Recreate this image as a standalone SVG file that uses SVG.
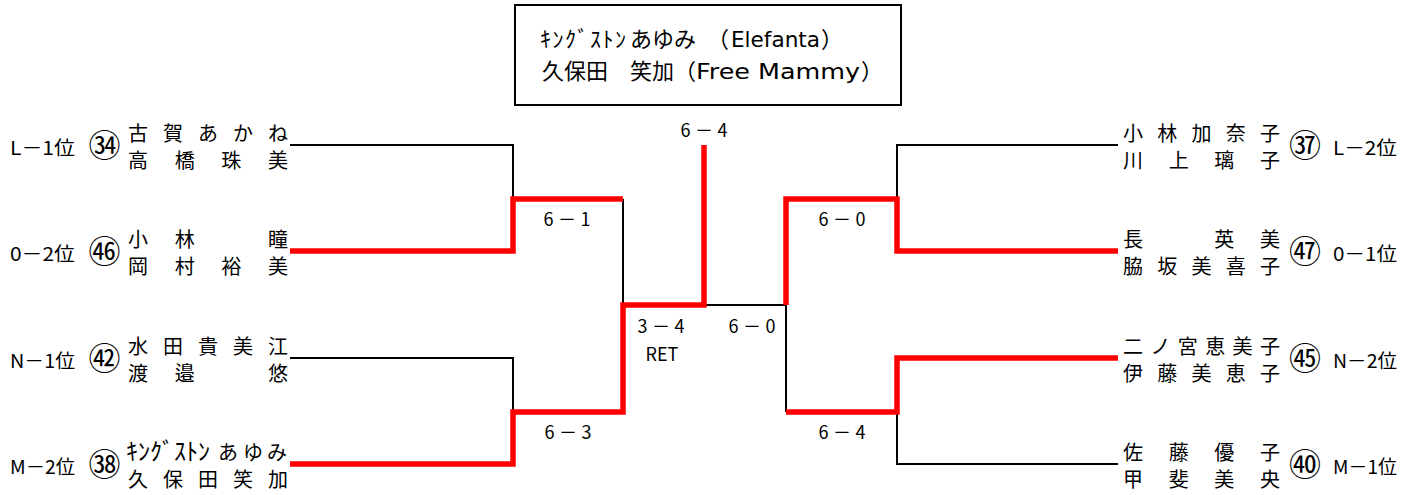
<svg xmlns="http://www.w3.org/2000/svg" width="1416" height="495" viewBox="0 0 1416 495">
<style>
text{font-family:"Noto Sans CJK JP","Noto Sans",sans-serif;fill:#000}
.nm{font-size:20px}
.hk{font-size:24px}
.lb{font-size:19px}
.cn{font-size:32px;text-anchor:middle}
.sc{font-size:18px;text-anchor:middle}
.lat{font-family:"DejaVu Sans","Liberation Sans",sans-serif;font-size:21px}
.bk{fill:none;stroke:#000;stroke-width:2}
.rd{fill:none;stroke:#FF0000;stroke-width:5.5;stroke-linejoin:miter}
</style>
<rect x="0" y="0" width="1416" height="495" fill="#fff"/>

<g id="champion-box">
<rect x="515" y="5" width="386" height="100" fill="#fff" stroke="#000" stroke-width="2"/>
<text style="font-size:22px" y="47"><tspan x="540 552.5 565 577.5 590 602.5 615">ｷﾝｸﾞｽﾄﾝ</tspan><tspan x="630 652 674">あゆみ</tspan><tspan x="707">（</tspan><tspan class="lat" x="731" textLength="89" lengthAdjust="spacingAndGlyphs">Elefanta</tspan><tspan x="821">）</tspan></text>
<text style="font-size:22px" y="79"><tspan x="542 564 586 608 630 652 674">久保田　笑加（</tspan><tspan class="lat" x="696" textLength="164" lengthAdjust="spacingAndGlyphs">Free Mammy</tspan><tspan x="861">）</tspan></text>
</g>

<g id="connectors">
<path class="bk" d="M290,145 H513 V199"/>
<path class="bk" d="M623,199 V305"/>
<path class="bk" d="M290,358 H513 V412"/>
<path class="bk" d="M704,305 H786 V412"/>
<path class="bk" d="M1118,145 H897 V199"/>
<path class="bk" d="M1118,464 H897 V412"/>
<path class="rd" d="M290,251 H513 V199 H623"/>
<path class="rd" d="M290,464 H513 V412 H623 V305 H704 V145"/>
<path class="rd" d="M1118,251 H897 V199 H786 V305"/>
<path class="rd" d="M1118,358 H897 V412 H786"/>
</g>

<g id="scores">
<text class="sc" x="704" y="137" textLength="47" lengthAdjust="spacing">6－4</text>
<text class="sc" x="567" y="226" textLength="47" lengthAdjust="spacing">6－1</text>
<text class="sc" x="842" y="226" textLength="47" lengthAdjust="spacing">6－0</text>
<text class="sc" x="661" y="333" textLength="47" lengthAdjust="spacing">3－4</text>
<text class="sc" x="662" y="361">RET</text>
<text class="sc" x="752" y="333" textLength="47" lengthAdjust="spacing">6－0</text>
<text class="sc" x="568" y="439" textLength="47" lengthAdjust="spacing">6－3</text>
<text class="sc" x="842" y="439" textLength="47" lengthAdjust="spacing">6－4</text>
</g>

<g id="p34">
<text class="lb" x="10" y="155" textLength="65" lengthAdjust="spacingAndGlyphs">L－1位</text>
<text class="cn" x="104.5" y="157">㉞</text>
<text class="nm" x="128 163 198 233 268" y="141">古賀あかね</text>
<text class="nm" x="128 174.7 221.3 268" y="168">高橋珠美</text>
</g>
<g id="p46">
<text class="lb" x="10" y="261" textLength="65" lengthAdjust="spacingAndGlyphs">0－2位</text>
<text class="cn" x="104.5" y="263">㊻</text>
<text class="nm" x="128 174.7 221.3 268" y="247">小林　瞳</text>
<text class="nm" x="128 174.7 221.3 268" y="274">岡村裕美</text>
</g>
<g id="p42">
<text class="lb" x="10" y="368" textLength="65" lengthAdjust="spacingAndGlyphs">N－1位</text>
<text class="cn" x="104.5" y="370">㊷</text>
<text class="nm" x="128 163 198 233 268" y="354">水田貴美江</text>
<text class="nm" x="128 174.7 221.3 268" y="381">渡邉　悠</text>
</g>
<g id="p38">
<text class="lb" x="10" y="474" textLength="65" lengthAdjust="spacingAndGlyphs">M－2位</text>
<text class="cn" x="104.5" y="476">㊳</text>
<text class="nm" y="460"><tspan class="hk" x="126 138 150 162 174 186 198">ｷﾝｸﾞｽﾄﾝ</tspan><tspan x="218 243 267">あゆみ</tspan></text>
<text class="nm" x="128 163 198 233 268" y="487">久保田笑加</text>
</g>

<g id="p37">
<text class="nm" x="1123 1157.25 1191.5 1225.75 1260" y="141">小林加奈子</text>
<text class="nm" x="1123 1168.7 1214.3 1260" y="168">川上璃子</text>
<text class="cn" x="1305" y="157">㊲</text>
<text class="lb" x="1333" y="155" textLength="64" lengthAdjust="spacingAndGlyphs">L－2位</text>
</g>
<g id="p47">
<text class="nm" x="1123 1168.7 1214.3 1260" y="247">長　英美</text>
<text class="nm" x="1123 1157.25 1191.5 1225.75 1260" y="274">脇坂美喜子</text>
<text class="cn" x="1305" y="263">㊼</text>
<text class="lb" x="1333" y="261" textLength="64" lengthAdjust="spacingAndGlyphs">0－1位</text>
</g>
<g id="p45">
<text class="nm" x="1123 1150.4 1177.8 1205.2 1232.6 1260" y="354">二ノ宮恵美子</text>
<text class="nm" x="1123 1157.25 1191.5 1225.75 1260" y="381">伊藤美恵子</text>
<text class="cn" x="1305" y="370">㊺</text>
<text class="lb" x="1333" y="368" textLength="64" lengthAdjust="spacingAndGlyphs">N－2位</text>
</g>
<g id="p40">
<text class="nm" x="1123 1168.7 1214.3 1260" y="460">佐藤優子</text>
<text class="nm" x="1123 1168.7 1214.3 1260" y="487">甲斐美央</text>
<text class="cn" x="1305" y="476">㊵</text>
<text class="lb" x="1333" y="474" textLength="64" lengthAdjust="spacingAndGlyphs">M－1位</text>
</g>
</svg>
